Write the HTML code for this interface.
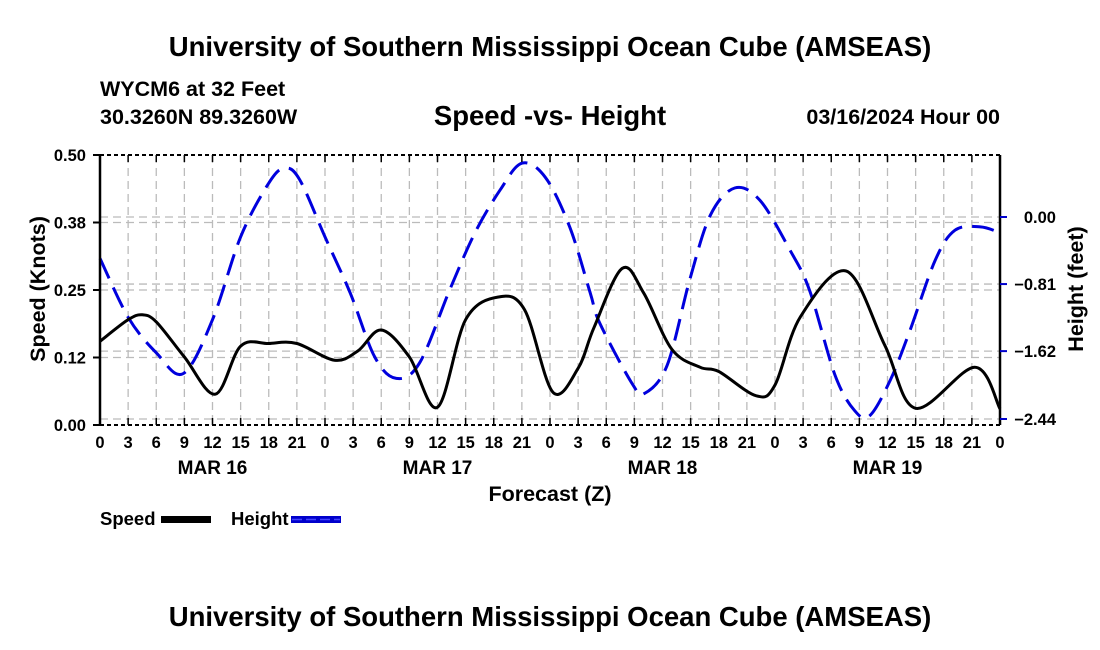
<!DOCTYPE html>
<html><head><meta charset="utf-8"><style>
body{margin:0;background:#fff;}
svg{display:block;font-family:"Liberation Sans",sans-serif;font-weight:bold;}
</style></head><body>
<svg id="c" width="1100" height="650" viewBox="0 0 1100 650">
<text x="550" y="56" font-size="27.5" text-anchor="middle">University of Southern Mississippi Ocean Cube (AMSEAS)</text>
<text x="100" y="96" font-size="21.5">WYCM6 at 32 Feet</text>
<text x="100" y="124" font-size="21.5">30.3260N  89.3260W</text>
<text x="550" y="125" font-size="27.5" text-anchor="middle">Speed -vs- Height</text>
<text x="1000" y="124" font-size="21.5" text-anchor="end">03/16/2024 Hour 00</text>
<text x="550" y="501" font-size="21.5" text-anchor="middle">Forecast (Z)</text>
<text transform="translate(45,289) rotate(-90)" font-size="21.5" text-anchor="middle">Speed (Knots)</text>
<text transform="translate(1083,289) rotate(-90)" font-size="21.5" text-anchor="middle">Height (feet)</text>
<g>
<text x="100" y="525" font-size="18.5">Speed</text>
<rect x="161" y="516" width="50" height="7" fill="#000"/>
<text x="231" y="525" font-size="18.5">Height</text>
<rect x="291" y="516" width="50" height="7" fill="#0000cc"/>
<line x1="292" y1="519.5" x2="340" y2="519.5" stroke="#4444ff" stroke-width="1.5" stroke-dasharray="10,4"/>
</g>
<text x="550" y="626" font-size="27.5" text-anchor="middle">University of Southern Mississippi Ocean Cube (AMSEAS)</text>
<g id="plot"></g>
</svg>
<script>
const speedHours=[0,3,4.5,6,9,12.3,15,18,21,25,27.5,30,33,36,39,42.5,45.3,48.3,51,52.7,55.7,58,61,64,66,70,72,74.7,79.6,83.7,87,93.3,96];
const speedValues=[0.155,0.195,0.204,0.191,0.126,0.057,0.146,0.151,0.151,0.120,0.137,0.176,0.126,0.033,0.195,0.237,0.213,0.061,0.105,0.181,0.290,0.244,0.140,0.107,0.099,0.054,0.074,0.200,0.285,0.148,0.031,0.107,0.030];
const heightHours=[0,3,6,8.9,12,15,18,19.7,21.3,24,26.7,29.3,31.6,34.1,37.3,40,42.7,45,47.5,50.1,52.3,53.3,56.8,58.1,60.5,62.9,65.1,67.7,70.4,73.6,75.7,78.4,80.5,82.1,84.3,86.4,89.1,91.2,93.9,96];
const heightValues=[-0.50,-1.21,-1.64,-1.89,-1.24,-0.24,0.41,0.59,0.45,-0.24,-0.92,-1.69,-1.95,-1.76,-0.88,-0.19,0.33,0.65,0.48,-0.12,-0.92,-1.28,-2.02,-2.13,-1.79,-0.76,0.02,0.35,0.20,-0.40,-0.89,-1.91,-2.34,-2.40,-1.97,-1.37,-0.52,-0.16,-0.12,-0.19];
const xTickLabels=["0","3","6","9","12","15","18","21","0","3","6","9","12","15","18","21","0","3","6","9","12","15","18","21","0","3","6","9","12","15","18","21","0"];
const dayLabels=["MAR 16","MAR 17","MAR 18","MAR 19"];
const leftTicks=[0,0.125,0.25,0.375,0.5];
const leftTickLabels=["0.00","0.12","0.25","0.38","0.50"];
const rightTicks=[0,-0.81,-1.62,-2.44];
const rightTickLabels=["0.00","\u22120.81","\u22121.62","\u22122.44"];

const L=100,R=1000,T=155,B=425;
const xs=h=>L+(R-L)*h/96;
const ys=v=>B-(B-T)*v/0.5;
const yh=v=>217-(419-217)*v/2.44;
const NS="http://www.w3.org/2000/svg";
const g=document.getElementById('plot');
function mk(tag,attrs){const e=document.createElementNS(NS,tag);for(const k in attrs)e.setAttribute(k,attrs[k]);g.appendChild(e);return e;}

for(let i=1;i<32;i++){const x=xs(i*3);
const e=mk('line',{x1:x,y1:T,x2:x,y2:B,stroke:'#bbb','stroke-width':1.3,'stroke-dasharray':'8,5'});

}
leftTicks.forEach(v=>{if(v===0||v===0.5)return;const y=ys(v);
const e=mk('line',{x1:L,y1:y,x2:R,y2:y,stroke:'#bbb','stroke-width':1.3,'stroke-dasharray':'8,5'});

});
rightTicks.forEach(v=>{const y=yh(v);
const e=mk('line',{x1:L,y1:y,x2:R,y2:y,stroke:'#bbb','stroke-width':1.3,'stroke-dasharray':'8,5'});

});

function smooth(hs,vs,fy){let p=hs.map((h,i)=>[xs(h),fy(vs[i])]);let d='M'+p[0][0]+','+p[0][1];
for(let i=0;i<p.length-1;i++){const p0=p[Math.max(0,i-1)],p1=p[i],p2=p[i+1],p3=p[Math.min(p.length-1,i+2)];
const c1=[p1[0]+(p2[0]-p0[0])/6,p1[1]+(p2[1]-p0[1])/6],c2=[p2[0]-(p3[0]-p1[0])/6,p2[1]-(p3[1]-p1[1])/6];
d+=' C'+c1[0].toFixed(1)+','+c1[1].toFixed(1)+' '+c2[0].toFixed(1)+','+c2[1].toFixed(1)+' '+p2[0].toFixed(1)+','+p2[1].toFixed(1);}return d;}

const hl=mk('path',{d:smooth(heightHours,heightValues,yh),fill:'none',stroke:'#0000dd','stroke-width':3,'stroke-dasharray':'22,10'});


const sl=mk('path',{d:smooth(speedHours,speedValues,ys),fill:'none',stroke:'#000','stroke-width':3});



[[L,'left-axis'],[R,'right-axis']].forEach(a=>{const e=mk('line',{x1:a[0],y1:T,x2:a[0],y2:B,stroke:'#000','stroke-width':2.5});

});
[T,B].forEach((y,i)=>{const e=mk('line',{x1:L,y1:y,x2:R,y2:y,stroke:'#000','stroke-width':2,'stroke-dasharray':'4,3'});

});

xTickLabels.forEach((t,i)=>{const x=xs(i*3);
const tk=mk('line',{x1:x,y1:B,x2:x,y2:B-7,stroke:'#000','stroke-width':1.5});


const tt=mk('line',{x1:x,y1:T,x2:x,y2:T+7,stroke:'#000','stroke-width':1.5});


const e=mk('text',{x:x,y:448,'font-size':16.5,'text-anchor':'middle'});e.textContent=t;

});
dayLabels.forEach((t,i)=>{const e=mk('text',{x:xs(i*24+12),y:474,'font-size':19,'text-anchor':'middle'});e.textContent=t;

});
leftTicks.forEach((v,i)=>{const y=ys(v);
const tk=mk('line',{x1:L-7,y1:y,x2:L,y2:y,stroke:'#000','stroke-width':2});


const e=mk('text',{x:86,y:y+6,'font-size':16.5,'text-anchor':'end'});e.textContent=leftTickLabels[i];

});
rightTicks.forEach((v,i)=>{const y=yh(v);
const tk=mk('line',{x1:R,y1:y,x2:R+7,y2:y,stroke:'#0000cc','stroke-width':2});


const e=mk('text',{x:1056,y:y+6,'font-size':16.5,'text-anchor':'end'});e.textContent=rightTickLabels[i];

});
</script>
</body></html>
